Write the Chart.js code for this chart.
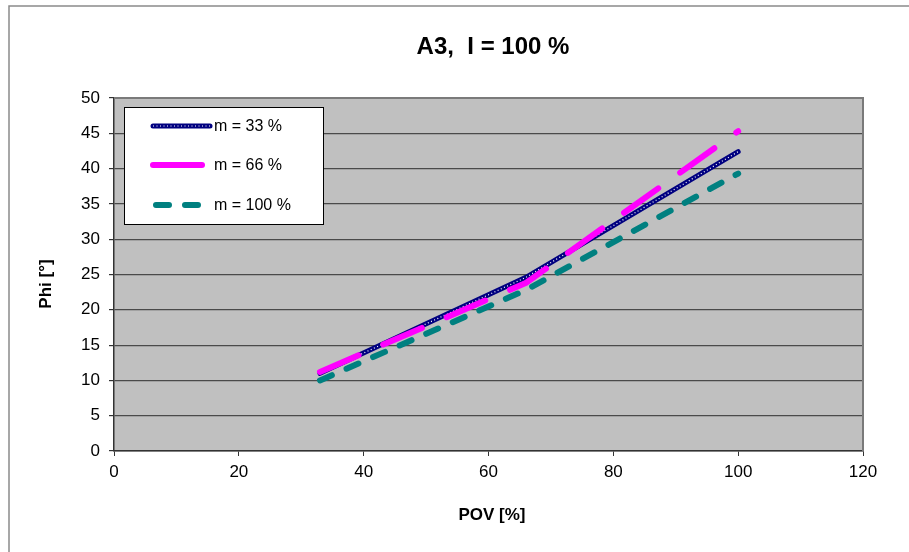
<!DOCTYPE html>
<html>
<head>
<meta charset="utf-8">
<script src="https://cdn.jsdelivr.net/npm/chart.js@4.4.1/dist/chart.umd.min.js"></script>
<style>
  html, body { margin: 0; padding: 0; background: #ffffff; }
  #wrap { width: 909px; height: 552px; }
</style>
</head>
<body>
<div id="wrap"><canvas id="c" width="909" height="552"></canvas></div>
<script>
const chartTitle = "A3,  I = 100 %";
const xTitle = "POV [%]";
const yTitle = "Phi [°]";
const pov = [33, 66, 100];
const m33 = [11.0, 24.6, 42.4];
const m66 = [11.2, 23.8, 45.3];
const m100 = [10.0, 22.8, 39.3];
const seriesNames = ["m = 33 %", "m = 66 %", "m = 100 %"];
const xTicks = [0, 20, 40, 60, 80, 100, 120];
const yTicks = [0, 5, 10, 15, 20, 25, 30, 35, 40, 45, 50];

const FONT = "'Liberation Sans', Arial, sans-serif";

function pts(xs, ys) { return xs.map((x, i) => ({ x: x, y: ys[i] })); }

const frameAndText = {
  id: 'frameAndText',
  beforeDraw(chart) {
    const ctx = chart.ctx;
    const a = chart.chartArea;
    ctx.save();
    ctx.fillStyle = '#ffffff';
    ctx.fillRect(0, 0, chart.width, chart.height);
    ctx.strokeStyle = '#8a8a8a';
    ctx.lineWidth = 1.5;
    ctx.beginPath();
    ctx.moveTo(9, chart.height + 2);
    ctx.lineTo(9, 6);
    ctx.lineTo(chart.width + 2, 6);
    ctx.stroke();
    ctx.fillStyle = '#c0c0c0';
    ctx.fillRect(a.left, a.top, a.right - a.left, a.bottom - a.top);
    ctx.restore();
  },
  afterDraw(chart) {
    const ctx = chart.ctx;
    const a = chart.chartArea;
    ctx.save();
    ctx.strokeStyle = '#7a7a7a';
    ctx.lineWidth = 2;
    ctx.beginPath();
    ctx.moveTo(a.left, a.top);
    ctx.lineTo(a.right, a.top);
    ctx.lineTo(a.right, a.bottom);
    ctx.stroke();
    ctx.fillStyle = '#000000';
    ctx.textAlign = 'center';
    ctx.textBaseline = 'middle';
    ctx.font = 'bold 24px ' + FONT;
    ctx.fillText(chartTitle, 493, 47);
    ctx.font = 'bold 17px ' + FONT;
    ctx.fillText(xTitle, 492, 515);
    ctx.translate(46, 284);
    ctx.rotate(-Math.PI / 2);
    ctx.fillText(yTitle, 0, 0);
    ctx.restore();

    ctx.save();
    ctx.fillStyle = '#ffffff';
    ctx.fillRect(124, 107, 199, 117);
    ctx.strokeStyle = '#000000';
    ctx.lineWidth = 1;
    ctx.strokeRect(124.5, 107.5, 199, 117);
    const rows = [126, 165, 205];
    const x0 = 153, x1 = 210;
    ctx.lineCap = 'round';
    ctx.strokeStyle = '#000080'; ctx.lineWidth = 5; ctx.setLineDash([]);
    ctx.beginPath(); ctx.moveTo(x0, rows[0]); ctx.lineTo(x1, rows[0]); ctx.stroke();
    ctx.strokeStyle = '#ffffff'; ctx.lineWidth = 1.2; ctx.setLineDash([1, 2.5]); ctx.lineCap = 'butt';
    ctx.beginPath(); ctx.moveTo(x0, rows[0]); ctx.lineTo(x1, rows[0]); ctx.stroke();
    ctx.lineCap = 'round';
    ctx.strokeStyle = '#ff00ff'; ctx.lineWidth = 6; ctx.setLineDash([]);
    ctx.beginPath(); ctx.moveTo(x0, rows[1]); ctx.lineTo(202, rows[1]); ctx.stroke();
    ctx.strokeStyle = '#008080'; ctx.lineWidth = 6; ctx.setLineDash([13, 16]);
    ctx.beginPath(); ctx.moveTo(x0 + 3, rows[2]); ctx.lineTo(x1, rows[2]); ctx.stroke();
    ctx.setLineDash([]);
    ctx.fillStyle = '#000000';
    ctx.font = '16px ' + FONT;
    ctx.textAlign = 'left';
    ctx.textBaseline = 'middle';
    for (let i = 0; i < 3; i++) ctx.fillText(seriesNames[i], 214, rows[i] + 1);
    ctx.restore();
  }
};

new Chart(document.getElementById('c'), {
  type: 'line',
  data: {
    datasets: [
      {
        label: seriesNames[1], data: pts(pov, m66), order: 0,
        borderColor: '#ff00ff', borderWidth: 6, borderDash: [42, 27], borderCapStyle: 'round',
        pointRadius: 0, fill: false, tension: 0
      },
      {
        label: seriesNames[0] + ' dots', data: pts(pov, m33), order: 1,
        borderColor: '#ffffff', borderWidth: 1.2, borderDash: [1, 2.5],
        pointRadius: 0, fill: false, tension: 0
      },
      {
        label: seriesNames[0], data: pts(pov, m33), order: 2,
        borderColor: '#000080', borderWidth: 5, borderCapStyle: 'round',
        pointRadius: 0, fill: false, tension: 0
      },
      {
        label: seriesNames[2], data: pts(pov, m100), order: 3,
        borderColor: '#008080', borderWidth: 6, borderDash: [13, 16], borderCapStyle: 'round',
        pointRadius: 0, fill: false, tension: 0
      }
    ]
  },
  options: {
    responsive: false,
    devicePixelRatio: 1,
    animation: false,
    layout: { padding: { left: 0, top: 98, right: 46, bottom: 0 } },
    plugins: {
      legend: { display: false },
      title: { display: false },
      tooltip: { enabled: false }
    },
    scales: {
      x: {
        type: 'linear', min: 0, max: 120,
        afterBuildTicks: (s) => { s.ticks = xTicks.map(v => ({ value: v })); },
        afterFit: (s) => { s.height = 101; },
        border: { display: true, color: '#333333', width: 1.5 },
        grid: {
          display: true, drawOnChartArea: true, drawTicks: true, tickLength: 5,
          color: (c) => 'rgba(0,0,0,0)', tickColor: '#333333', tickWidth: 1
        },
        ticks: { color: '#000000', padding: 6, maxRotation: 0, font: { family: FONT, size: 17 } }
      },
      y: {
        type: 'linear', min: 0, max: 50,
        afterBuildTicks: (s) => { s.ticks = yTicks.map(v => ({ value: v })); },
        afterFit: (s) => { s.width = 114; },
        border: { display: true, color: '#333333', width: 1.5 },
        grid: {
          display: true, drawTicks: true, tickLength: 5,
          color: '#4a4a4a', lineWidth: 1.2, tickColor: '#333333'
        },
        ticks: { color: '#000000', padding: 9, font: { family: FONT, size: 17 } }
      }
    }
  },
  plugins: [frameAndText]
});
</script>
</body>
</html>
